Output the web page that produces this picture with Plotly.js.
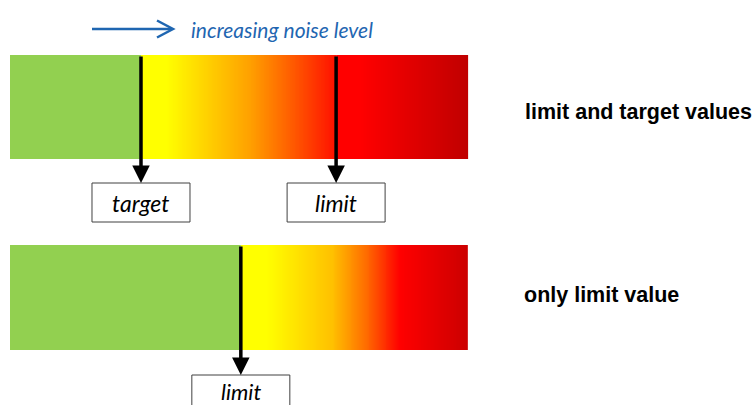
<!DOCTYPE html>
<html>
<head>
<meta charset="utf-8">
<script src="https://cdn.plot.ly/plotly-3.0.1.min.js"></script>
<style>html,body{margin:0;padding:0;background:#fff;}#chart{width:755px;height:405px;}</style>
</head>
<body>
<div id="chart"></div>
<script>
// ---------- data (noise level scale 0..100 across each bar) ----------
const scaleMin = 0;
const scaleMax = 100;
const rowLabels = ["limit and target values", "only limit value"];
const topTarget = 28.6;
const topLimit = 71.2;
const bottomLimit = 50.4;
const markerLabelsTop = ["target", "limit"];
const markerLabelsBottom = ["limit"];
const arrowCaption = "increasing noise level";

// gradient stops (fraction of zone, colour)
const topWarnStops = [0, 0.13, 0.56, 0.76, 1];
const topWarnColors = ["#FFFF00", "#FFFF00", "#FFA000", "#FF6000", "#FF1000"];
const topOverStops = [0, 0.18, 1];
const topOverColors = ["#FF0000", "#FF0000", "#C00000"];
const bottomOverStops = [0, 0.115, 0.405, 0.555, 0.70, 1];
const bottomOverColors = ["#FFFF00", "#FFFF00", "#FFC000", "#FF6A00", "#FF0000", "#CC0000"];
const okColor = "#92D050";

// ---------- layout constants ----------
const W = 755, H = 405;
const barLeftPx = 10, barRightPx = 468;
const unitPx = (barRightPx - barLeftPx) / (scaleMax - scaleMin);
const xRange = [scaleMin - barLeftPx / unitPx, scaleMax + (W - barRightPx) / unitPx];
const bars = [
  {top: 55, bottom: 159, boxTop: 183, textY: 203, fontSize: 23},
  {top: 245, bottom: 350, boxTop: 375, textY: 391, fontSize: 22}
];
const boxW = 98, boxH = 39;
const N = 240;

function gradientTrace(x0, x1, yTop, yBot, stops, colors) {
  const xs = [], z = [];
  for (let i = 0; i <= N; i++) xs.push(x0 + (x1 - x0) * i / N);
  for (let i = 0; i < N; i++) z.push((i + 0.5) / N);
  return {
    type: "heatmap", x: xs, y: [yTop, yBot], z: [z],
    zmin: 0, zmax: 1, showscale: false, hoverinfo: "skip",
    colorscale: stops.map((s, i) => [s, colors[i]])
  };
}

const traces = [
  gradientTrace(topTarget, topLimit, bars[0].top, bars[0].bottom, topWarnStops, topWarnColors),
  gradientTrace(topLimit, scaleMax, bars[0].top, bars[0].bottom, topOverStops, topOverColors),
  gradientTrace(bottomLimit, scaleMax, bars[1].top, bars[1].bottom, bottomOverStops, bottomOverColors)
];

const blue = "#1F66B1";
const shapes = [
  {type: "rect", xref: "x", yref: "y", x0: scaleMin, x1: topTarget, y0: bars[0].top, y1: bars[0].bottom, fillcolor: okColor, line: {width: 0}},
  {type: "rect", xref: "x", yref: "y", x0: scaleMin, x1: bottomLimit, y0: bars[1].top, y1: bars[1].bottom, fillcolor: okColor, line: {width: 0}},
  // direction arrow
  {type: "line", xref: "paper", yref: "y", x0: 92 / W, x1: 172 / W, y0: 29, y1: 29, line: {color: blue, width: 2.5}},
  {type: "path", xref: "paper", yref: "y", path: `M ${157 / W},20.5 L ${173 / W},29 L ${157 / W},37.5`, line: {color: blue, width: 2.5}}
];

const annotations = [];
function marker(level, bar, label) {
  const half = boxW / 2 / unitPx;
  shapes.push({type: "rect", xref: "x", yref: "y", x0: level - half, x1: level + half,
    y0: bar.boxTop, y1: bar.boxTop + boxH, fillcolor: "#fff", line: {color: "#404040", width: 1}});
  annotations.push(
    {x: level, y: bar.boxTop, ax: level, ay: bar.top, xref: "x", yref: "y", axref: "x", ayref: "y",
     text: "", showarrow: true, arrowhead: 2, arrowsize: 1, arrowwidth: 3.5, arrowcolor: "#000", standoff: 0, startstandoff: 0},
    {x: level, y: bar.textY, xref: "x", yref: "y", xanchor: "center", yanchor: "middle", showarrow: false,
     text: "<i>" + label + "</i>", font: {family: "Lato, 'Open Sans', sans-serif", size: bar.fontSize, color: "#000"}}
  );
}
marker(topTarget, bars[0], markerLabelsTop[0]);
marker(topLimit, bars[0], markerLabelsTop[1]);
marker(bottomLimit, bars[1], markerLabelsBottom[0]);

annotations.push(
  {xref: "paper", yref: "y", x: 189 / W, y: 29, xanchor: "left", yanchor: "middle", showarrow: false,
   text: "<i>" + arrowCaption + "</i>", font: {family: "Lato, 'Open Sans', sans-serif", size: 21, color: blue}},
  {xref: "paper", yref: "y", x: 523 / W, y: 112, xanchor: "left", yanchor: "middle", showarrow: false,
   text: "<b>" + rowLabels[0] + "</b>", font: {family: "'Liberation Sans', Arial, sans-serif", size: 21.5, color: "#000"}},
  {xref: "paper", yref: "y", x: 522 / W, y: 295, xanchor: "left", yanchor: "middle", showarrow: false,
   text: "<b>" + rowLabels[1] + "</b>", font: {family: "'Liberation Sans', Arial, sans-serif", size: 21.5, color: "#000"}}
);

const layout = {
  width: W, height: H,
  margin: {l: 0, r: 0, t: 0, b: 0, pad: 0},
  paper_bgcolor: "#fff", plot_bgcolor: "#fff",
  showlegend: false,
  xaxis: {range: xRange, visible: false, fixedrange: true},
  yaxis: {range: [H, 0], visible: false, fixedrange: true},
  shapes: shapes,
  annotations: annotations
};

Plotly.newPlot("chart", traces, layout, {displayModeBar: false, staticPlot: true});
</script>
</body>
</html>
